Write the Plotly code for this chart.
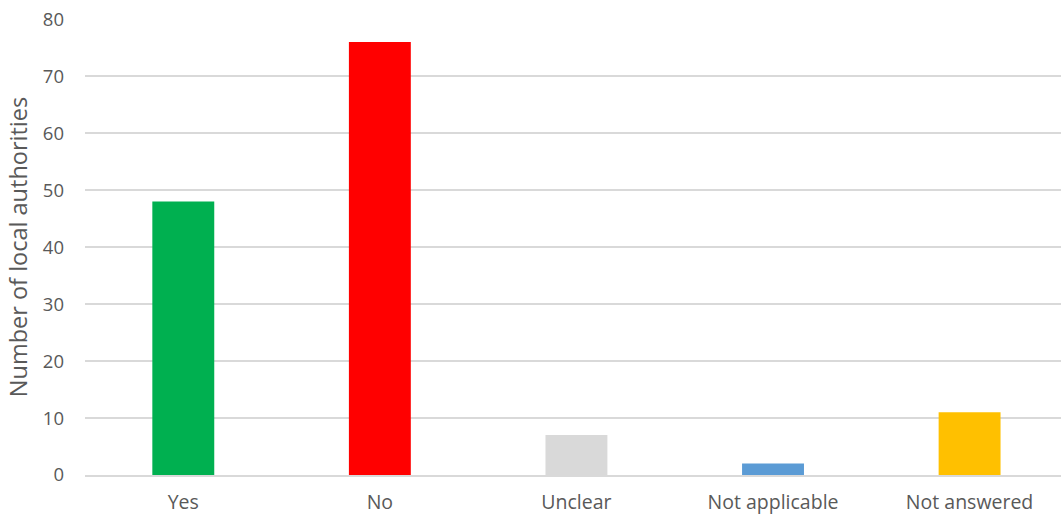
import plotly.graph_objects as go

categories = ["Yes", "No", "Unclear", "Not applicable", "Not answered"]
values = [48, 76, 7, 2, 11]
colors = ["#00B050", "#FF0000", "#D9D9D9", "#5B9BD5", "#FFC000"]
y_ticks = [0, 10, 20, 30, 40, 50, 60, 70, 80]

fig = go.Figure(go.Bar(x=categories, y=values, marker=dict(color=colors, line=dict(width=0)), width=0.315))

font = dict(family="Open Sans, Noto Sans, sans-serif", size=19.5, color="#595959")
fig.update_layout(
    width=1061, height=514,
    margin=dict(l=85, r=0, t=19, b=39),
    paper_bgcolor="white", plot_bgcolor="white",
    font=font, showlegend=False,
    xaxis=dict(range=[-0.5, 4.465], showgrid=False, showline=True, linecolor="#D9D9D9", linewidth=2,
               ticks="", tickfont=dict(size=19.5, color="#595959"), automargin=False,
               ticklabelstandoff=9, ticklabeloverflow="allow"),
    yaxis=dict(range=[0, 80.05], tickvals=y_ticks, showgrid=True, gridcolor="#D9D9D9", gridwidth=1.5,
               zeroline=False, ticks="", ticklabelstandoff=20, automargin=False,
               ticklabeloverflow="allow",
               title=dict(text="Number of local authorities", font=dict(size=23.5, color="#595959"), standoff=8),
               tickfont=dict(size=18.5, color="#595959")),
    bargap=0.685,
)
fig.write_html("out.html", config={"displayModeBar": False},
               post_script="document.body.style.margin='0';document.body.style.overflow='hidden';")
